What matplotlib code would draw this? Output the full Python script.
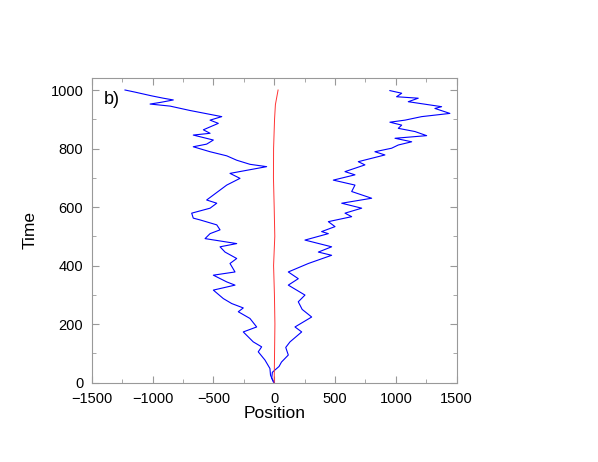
import numpy as np
import matplotlib
matplotlib.use("Agg")
import matplotlib.pyplot as plt
from matplotlib.ticker import MultipleLocator

plt.rcParams['font.family'] = ['Liberation Sans', 'DejaVu Sans']

# left walker: (time, position)
left_t = [0, 2, 25, 48, 77, 105, 122, 139, 173, 190, 219, 242, 255, 270, 287,
          316, 333, 344, 367, 378, 407, 424, 446, 464, 475, 492, 509, 522, 539,
          556, 562, 579, 596, 613, 624, 641, 658, 675, 698, 715, 738, 746, 760,
          775, 789, 806, 815, 829, 846, 852, 864, 886, 897, 909, 930, 945, 952,
          958, 966, 972, 980, 993, 1000]
left_x = [0, -7, -30, -35, -76, -131, -103, -172, -254, -144, -199, -295, -254,
          -349, -418, -500, -322, -390, -500, -322, -363, -308, -404, -445, -308,
          -568, -527, -445, -472, -610, -665, -678, -527, -472, -555, -500, -445,
          -390, -281, -363, -62, -199, -308, -390, -527, -665, -555, -500, -665,
          -527, -582, -459, -527, -431, -692, -856, -1020, -930, -829, -911,
          -1007, -1146, -1226]

# right walker
right_t = [0, 15, 35, 55, 70, 94, 120, 139, 173, 190, 224, 250, 276, 299, 333,
           355, 378, 407, 435, 446, 464, 487, 509, 516, 533, 550, 567, 579, 596,
           613, 630, 653, 675, 692, 710, 721, 744, 755, 778, 789, 801, 812, 823,
           835, 844, 858, 869, 880, 890, 897, 909, 920, 937, 943, 960, 972, 977,
           989, 998]
right_x = [0, -20, -15, 40, 60, 116, 95, 130, 226, 171, 308, 230, 198, 253, 116,
           198, 116, 281, 472, 363, 472, 253, 445, 390, 500, 445, 637, 582, 719,
           555, 801, 637, 664, 486, 664, 582, 746, 691, 910, 828, 965, 1020, 1130,
           993, 1253, 1157, 1020, 1048, 951, 1075, 1212, 1444, 1321, 1376, 1102,
           1184, 1006, 1048, 951]

# centre of mass
mid_t = [0, 100, 200, 300, 400, 500, 600, 700, 800, 900, 950, 1000]
mid_x = [0, 3, 6, 2, -5, 5, 0, -6, -5, 3, 10, 32]

fig = plt.figure(figsize=(5.98, 4.62), dpi=100)
ax = fig.add_axes([0.1533, 0.172, 0.6104, 0.6585])

ax.plot(left_x, left_t, color='blue', lw=0.8)
ax.plot(right_x, right_t, color='blue', lw=0.8)
ax.plot(mid_x, mid_t, color='#ff3333', lw=0.7)

ax.set_xlim(-1500, 1500)
ax.set_ylim(0, 1040)
ax.xaxis.set_major_locator(MultipleLocator(500))
ax.xaxis.set_minor_locator(MultipleLocator(250))
ax.yaxis.set_major_locator(MultipleLocator(200))
ax.yaxis.set_minor_locator(MultipleLocator(100))
ax.tick_params(which='both', direction='in', top=True, right=True,
               color='#999999', labelsize=10.5)
ax.tick_params(which='major', length=5)
ax.tick_params(which='minor', length=3)
ax.tick_params(axis='x', pad=7)
ax.tick_params(axis='y', pad=6)
for s in ax.spines.values():
    s.set_color('#999999')
    s.set_linewidth(0.8)

ax.set_xlabel('Position', fontsize=12.5, labelpad=0)
ax.set_ylabel('Time', fontsize=12.5, labelpad=9)
ax.text(-1400, 966, 'b)', fontsize=13, va='center')

fig.savefig('out.png', dpi=100)
